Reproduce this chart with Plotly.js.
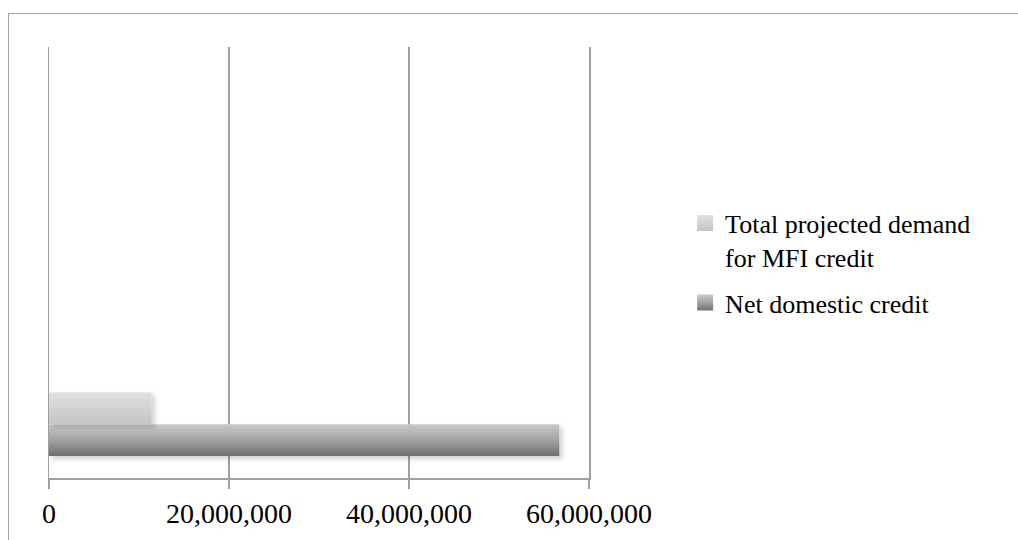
<!DOCTYPE html>
<html>
<head>
<meta charset="utf-8">
<script src="https://cdn.plot.ly/plotly-3.0.1.min.js"></script>
<style>
  html, body { margin: 0; padding: 0; background: #ffffff; }
  #wrap { position: relative; width: 1018px; height: 540px; overflow: hidden; }
  #chart { width: 1018px; height: 540px; }
  #frame { position: absolute; left: 8px; top: 13px; width: 1100px; height: 600px;
           border-left: 1.5px solid #a3a3a3; border-top: 1.5px solid #a3a3a3;
           pointer-events: none; }
</style>
</head>
<body>
<div id="wrap">
  <div id="chart"></div>
  <div id="frame"></div>
</div>
<script>
// ---- data ----
const categoryPositions = [0];
const seriesNames = ['Net domestic credit', 'Total projected demand<br>for MFI credit'];
const netDomesticCredit = [56700000];
const totalProjectedDemand = [11400000];
const xTickValues = [0, 20000000, 40000000, 60000000];

const FONT = 'Liberation Serif, Times New Roman, serif';

const traces = [
  {
    type: 'bar', orientation: 'h',
    name: seriesNames[0], legendgroup: 'g1', legendrank: 2,
    x: netDomesticCredit, y: categoryPositions,
    marker: { color: '#9c9c9c', line: { width: 0 } },
    hoverinfo: 'skip'
  },
  {
    type: 'bar', orientation: 'h',
    name: seriesNames[1], legendgroup: 'g2', legendrank: 1,
    x: totalProjectedDemand, y: categoryPositions,
    marker: { color: '#d3d3d3', line: { width: 0 } },
    hoverinfo: 'skip'
  }
];

const GRID = '#a0a0a0';

const layout = {
  width: 1018, height: 540,
  margin: { l: 49, r: 429, t: 47, b: 62, pad: 0 },
  paper_bgcolor: '#ffffff', plot_bgcolor: '#ffffff',
  barmode: 'group', bargap: 0.41, bargroupgap: 0,
  font: { family: FONT, color: '#000000', size: 26 },
  xaxis: {
    range: [0, 60000000],
    tickvals: xTickValues,
    tickformat: ',d',
    showgrid: true, gridcolor: GRID, gridwidth: 1.5,
    zeroline: false,
    showline: true, linecolor: GRID, linewidth: 1.5,
    ticks: 'outside', ticklen: 9, tickwidth: 1.5, tickcolor: GRID,
    ticklabelstandoff: 1,
    tickfont: { family: FONT, size: 28, color: '#000000' },
    fixedrange: true
  },
  yaxis: {
    type: 'linear',
    range: [-0.5, 3.5],
    showticklabels: false, showgrid: false, zeroline: false,
    showline: true, mirror: true, linecolor: GRID, linewidth: 1.5,
    ticks: '',
    fixedrange: true
  },
  showlegend: true,
  legend: {
    x: 1.178, xanchor: 'left',
    y: 0.646, yanchor: 'top',
    traceorder: 'grouped',
    tracegroupgap: 9,
    valign: 'top',
    font: { family: FONT, size: 26, color: '#000000' },
    bgcolor: 'rgba(0,0,0,0)', borderwidth: 0
  }
};

Plotly.newPlot('chart', traces, layout, { staticPlot: true, displayModeBar: false })
  .then(function (gd) {
    const NS = 'http://www.w3.org/2000/svg';
    const svg = gd.querySelector('svg.main-svg');
    let defs = svg.querySelector('defs');
    if (!defs) { defs = document.createElementNS(NS, 'defs'); svg.insertBefore(defs, svg.firstChild); }

    function addGrad(id, stops) {
      const g = document.createElementNS(NS, 'linearGradient');
      g.setAttribute('id', id);
      g.setAttribute('x1', '0'); g.setAttribute('y1', '0');
      g.setAttribute('x2', '0'); g.setAttribute('y2', '1');
      stops.forEach(function (s) {
        const st = document.createElementNS(NS, 'stop');
        st.setAttribute('offset', s[0]);
        st.setAttribute('stop-color', s[1]);
        g.appendChild(st);
      });
      defs.appendChild(g);
    }
    addGrad('gradDark', [['0', '#cbcbcb'], ['0.5', '#a2a2a2'], ['1', '#707070']]);
    addGrad('gradLight', [['0', '#e2e2e2'], ['1', '#c4c4c4']]);

    const f = document.createElementNS(NS, 'filter');
    f.setAttribute('id', 'barShadow');
    f.setAttribute('x', '-10%'); f.setAttribute('y', '-30%');
    f.setAttribute('width', '130%'); f.setAttribute('height', '170%');
    const ds = document.createElementNS(NS, 'feDropShadow');
    ds.setAttribute('dx', '3'); ds.setAttribute('dy', '3');
    ds.setAttribute('stdDeviation', '2.5');
    ds.setAttribute('flood-color', '#000000');
    ds.setAttribute('flood-opacity', '0.18');
    f.appendChild(ds);
    defs.appendChild(f);

    const barTraces = gd.querySelectorAll('.barlayer .trace');
    barTraces.forEach(function (t, i) {
      const id = i === 0 ? 'gradDark' : 'gradLight';
      t.querySelectorAll('path').forEach(function (p) {
        p.style.fill = 'url(#' + id + ')';
        p.setAttribute('filter', 'url(#barShadow)');
      });
    });

    gd.querySelectorAll('.legend .traces').forEach(function (t) {
      const txt = (t.querySelector('.legendtext') || {}).textContent || '';
      const id = txt.indexOf('Net') === 0 ? 'gradDark' : 'gradLight';
      t.querySelectorAll('.legendpoints path').forEach(function (p) {
        p.setAttribute('d', 'M8,8H-8V-8H8Z');
        p.style.fill = 'url(#' + id + ')';
        p.style.stroke = 'none';
      });
    });
  });
</script>
</body>
</html>
